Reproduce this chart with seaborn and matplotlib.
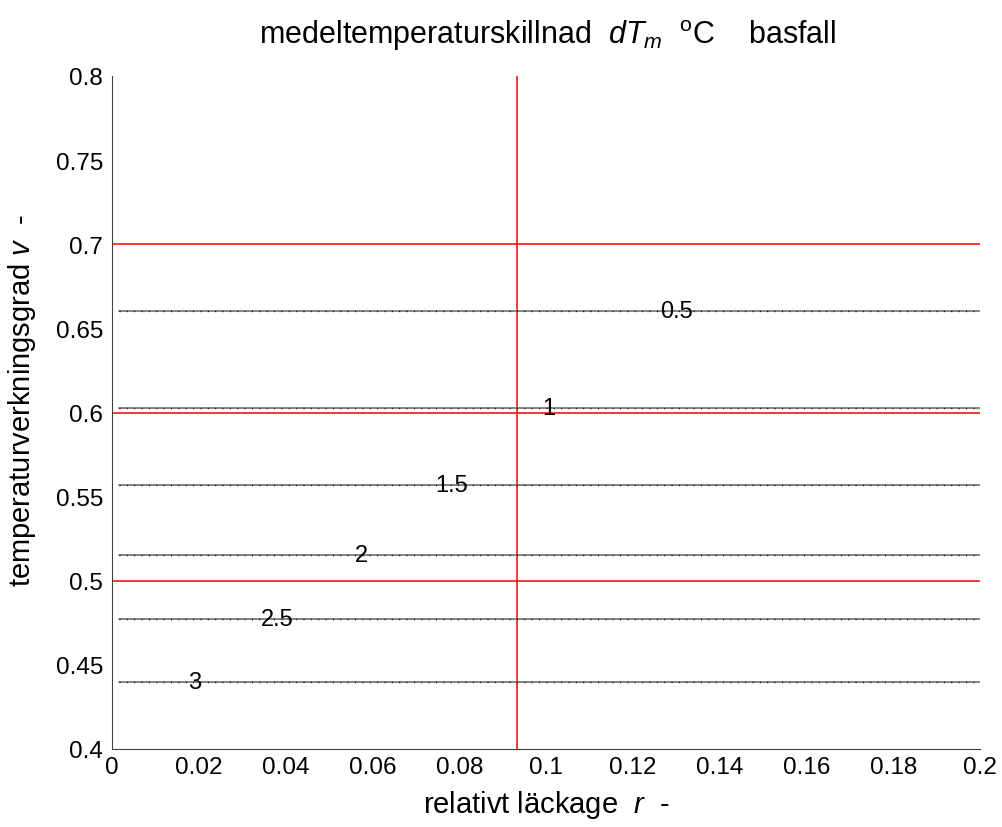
import numpy as np
import pandas as pd
import matplotlib
matplotlib.use("Agg")
import matplotlib.pyplot as plt
import seaborn as sns

# contour levels of dT_m and the efficiency v at which each level lies
levels = [0.5, 1, 1.5, 2, 2.5, 3]
level_v = [0.6605, 0.6025, 0.5571, 0.5153, 0.4773, 0.4396]
label_r = [0.130, 0.1007, 0.0782, 0.0575, 0.038, 0.0191]
r_span = [0.0016, 0.2]

# reference lines
ref_v = [0.7, 0.6, 0.5]
ref_r = 0.0933

x_ticks = [0, 0.02, 0.04, 0.06, 0.08, 0.1, 0.12, 0.14, 0.16, 0.18, 0.2]
x_ticklabels = ["0", "0.02", "0.04", "0.06", "0.08", "0.1", "0.12", "0.14", "0.16", "0.18", "0.2"]
y_ticks = [0.4, 0.45, 0.5, 0.55, 0.6, 0.65, 0.7, 0.75, 0.8]
y_ticklabels = ["0.4", "0.45", "0.5", "0.55", "0.6", "0.65", "0.7", "0.75", "0.8"]

sns.set_style("white")
plt.rcParams["font.family"] = ["Liberation Sans", "DejaVu Sans"]
plt.rcParams["mathtext.fontset"] = "custom"
plt.rcParams["mathtext.rm"] = "Liberation Sans"
plt.rcParams["mathtext.it"] = "Liberation Sans:italic"
plt.rcParams["text.color"] = "black"
plt.rcParams["axes.labelcolor"] = "black"
plt.rcParams["xtick.color"] = "black"
plt.rcParams["ytick.color"] = "black"

rows = []
for lev, v in zip(levels, level_v):
    for r in r_span:
        rows.append({"level": lev, "r": r, "v": v})
df = pd.DataFrame(rows)

fig = plt.figure(figsize=(10.03, 8.28), dpi=100)
ax = fig.add_axes([112 / 1003, 78 / 828, 868 / 1003, 673 / 828])

# contour lines: grey stroke with black dots on top
sns.lineplot(data=df, x="r", y="v", units="level", estimator=None,
             color="#6e6e6e", lw=1.2, ax=ax, zorder=3, legend=False)
n_before = len(ax.lines)
sns.lineplot(data=df, x="r", y="v", units="level", estimator=None,
             color="black", lw=1.0, ax=ax, zorder=4, legend=False)
for line in ax.lines[n_before:]:
    line.set_dashes((0.7, 4.6))

# red guide lines
for v in ref_v:
    ax.axhline(v, color="#ff0000", lw=1.1, zorder=2)
ax.axvline(ref_r, color="#ff0000", lw=1.1, zorder=2)

for lev, v, r in zip(levels, level_v, label_r):
    ax.text(r, v, f"{lev:g}", ha="center", va="center", fontsize=17,
            color="black", zorder=5)

ax.set_xlim(0, 0.2)
ax.set_ylim(0.4, 0.8)
ax.set_xticks(x_ticks)
ax.set_xticklabels(x_ticklabels)
ax.set_yticks(y_ticks)
ax.set_yticklabels(y_ticklabels)
ax.tick_params(direction="in", length=7, width=0.8, color="#404040",
               labelcolor="black", labelsize=17.5)
ax.tick_params(axis="x", pad=5.3)
ax.tick_params(axis="y", pad=6.5)
for side in ["top", "right"]:
    ax.spines[side].set_visible(False)
for side in ["left", "bottom"]:
    ax.spines[side].set_color("#404040")
    ax.spines[side].set_linewidth(0.8)

ax.set_xlabel(r"relativt läckage  $\mathit{r}$  -", fontsize=21)
ax.set_ylabel(r"temperaturverkningsgrad $\mathit{v}$  -", fontsize=21)
ax.xaxis.set_label_coords(0.5, -0.058)
ax.yaxis.set_label_coords(-0.085, 0.52)

fig.text(548 / 1003, 1 - 44 / 828,
         r"medeltemperaturskillnad  $\mathit{dT}_{\mathit{m}}$  $^{\mathrm{o}}$C    basfall",
         ha="center", va="baseline", fontsize=22)

fig.savefig("out.png", dpi=100)
